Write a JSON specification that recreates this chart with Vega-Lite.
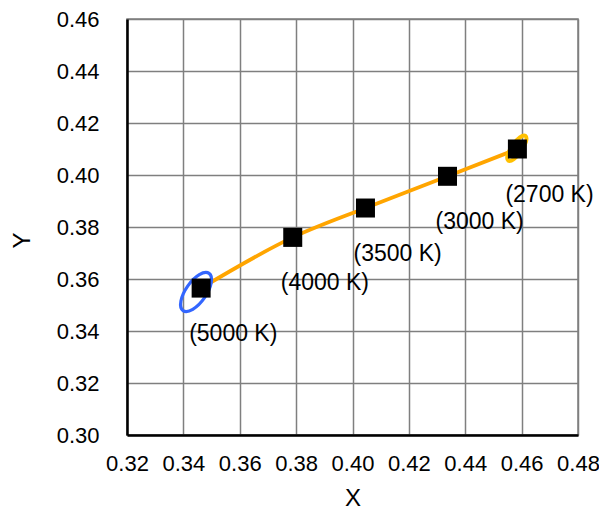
{
  "$schema": "https://vega.github.io/schema/vega-lite/v6.json",
  "width": 451,
  "height": 416,
  "autosize": "none",
  "padding": {"left": 127, "top": 19, "right": 21, "bottom": 78},
  "background": "white",
  "config": {
    "font": "Liberation Sans",
    "view": {"stroke": "#7f7f7f", "strokeWidth": 1.5},
    "axis": {
      "domainColor": "#000000",
      "domainWidth": 2.5,
      "gridColor": "#7f7f7f",
      "gridWidth": 1.5,
      "gridOpacity": 1,
      "ticks": false,
      "labelFontSize": 22,
      "labelColor": "#000000",
      "labelOverlap": false,
      "labelBound": false,
      "labelFlush": false,
      "titleFontSize": 24,
      "titleFontWeight": "normal",
      "titleColor": "#000000"
    }
  },
  "datasets": {
    "points": [
      {"cct": "5000 K", "label": "(5000 K)", "x": 0.3463, "y": 0.3565},
      {"cct": "4000 K", "label": "(4000 K)", "x": 0.3788, "y": 0.376},
      {"cct": "3500 K", "label": "(3500 K)", "x": 0.4046, "y": 0.3873},
      {"cct": "3000 K", "label": "(3000 K)", "x": 0.4337, "y": 0.3995},
      {"cct": "2700 K", "label": "(2700 K)", "x": 0.4585, "y": 0.41}
    ],
    "ellipses": [
      {"cct": "5000 K", "x": 0.3445, "y": 0.355},
      {"cct": "2700 K", "x": 0.4583, "y": 0.4103}
    ]
  },
  "encoding": {
    "x": {
      "field": "x",
      "type": "quantitative",
      "scale": {"domain": [0.32, 0.48], "nice": false, "zero": false},
      "axis": {
        "title": "X",
        "values": [0.32, 0.34, 0.36, 0.38, 0.4, 0.42, 0.44, 0.46, 0.48],
        "format": ".2f",
        "labelPadding": 18,
        "titlePadding": 12
      }
    },
    "y": {
      "field": "y",
      "type": "quantitative",
      "scale": {"domain": [0.3, 0.46], "nice": false, "zero": false},
      "axis": {
        "title": "Y",
        "values": [0.3, 0.32, 0.34, 0.36, 0.38, 0.4, 0.42, 0.44, 0.46],
        "format": ".2f",
        "labelPadding": 28,
        "titlePadding": 22,
        "titleY": 221
      }
    }
  },
  "layer": [
    {
      "data": {"name": "points"},
      "mark": {"type": "line", "color": "#FFA500", "strokeWidth": 3.8, "interpolate": "monotone"},
      "encoding": {"order": {"field": "x", "type": "quantitative"}}
    },
    {
      "data": {"name": "ellipses"},
      "transform": [{"filter": "datum.cct === '5000 K'"}],
      "mark": {
        "type": "point",
        "filled": false,
        "shape": "M -1 0 C -1 -0.2485 -0.5523 -0.45 0 -0.45 C 0.5523 -0.45 1 -0.2485 1 0 C 1 0.2485 0.5523 0.45 0 0.45 C -0.5523 0.45 -1 0.2485 -1 0 Z",
        "size": 2061,
        "angle": -55,
        "stroke": "#3366FF",
        "strokeWidth": 3.2,
        "opacity": 1
      }
    },
    {
      "data": {"name": "ellipses"},
      "transform": [{"filter": "datum.cct === '2700 K'"}],
      "mark": {
        "type": "point",
        "filled": false,
        "shape": "M -1 0 C -1 -0.1933 -0.5523 -0.35 0 -0.35 C 0.5523 -0.35 1 -0.1933 1 0 C 1 0.1933 0.5523 0.35 0 0.35 C -0.5523 0.35 -1 0.1933 -1 0 Z",
        "size": 900,
        "angle": -55,
        "stroke": "#FFC000",
        "strokeWidth": 4,
        "opacity": 1
      }
    },
    {
      "data": {"name": "points"},
      "mark": {"type": "point", "shape": "square", "filled": true, "size": 361, "color": "#000000", "opacity": 1}
    },
    {
      "data": {"name": "points"},
      "mark": {"type": "text", "align": "left", "baseline": "middle", "dx": -12, "dy": 46, "fontSize": 23, "color": "#000000"},
      "encoding": {"text": {"field": "label", "type": "nominal"}}
    }
  ]
}
